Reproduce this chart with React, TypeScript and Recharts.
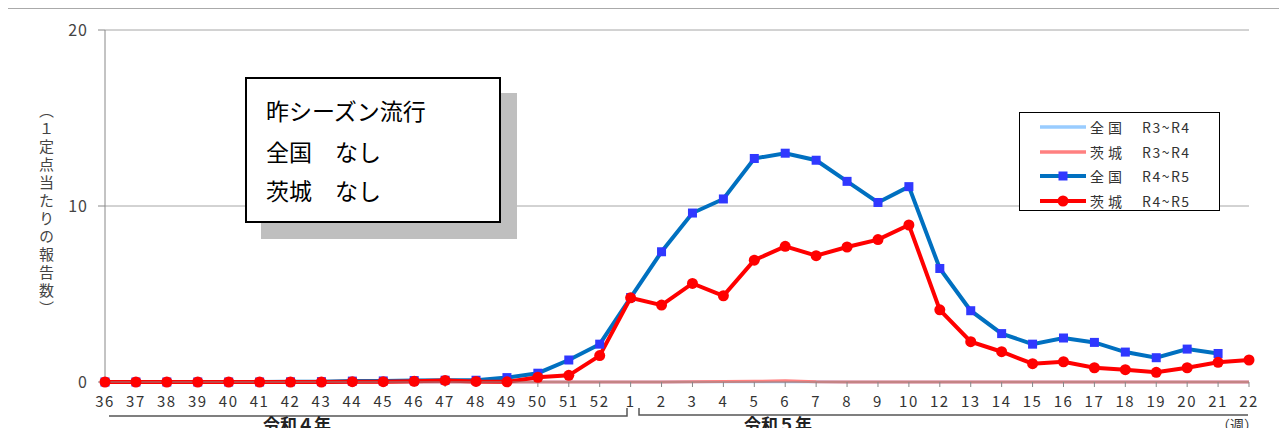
import React from "react";
import { CartesianGrid, Line, LineChart, XAxis, YAxis } from "recharts";

// Week labels (week 11 is not shown in the source chart)
const weeks = [
  "36", "37", "38", "39", "40", "41", "42", "43", "44", "45", "46", "47", "48", "49", "50", "51", "52",
  "1", "2", "3", "4", "5", "6", "7", "8", "9", "10",
  "12", "13", "14", "15", "16", "17", "18", "19", "20", "21", "22",
];

// 全国 R3~R4 (flat, hidden under the pink line)
const zenkokuPrev = [
  0, 0, 0, 0, 0, 0, 0, 0, 0, 0, 0, 0, 0, 0, 0, 0, 0,
  0, 0, 0.01, 0.01, 0.02, 0.02, 0.01, 0, 0, 0,
  0, 0, 0, 0, 0, 0, 0, 0, 0, 0, 0,
];

// 茨城 R3~R4
const ibarakiPrev = [
  0, 0, 0, 0, 0, 0, 0, 0, 0, 0, 0, 0, 0, 0, 0, 0, 0,
  0, 0, 0.01, 0.03, 0.04, 0.07, 0.01, 0, 0, 0,
  0, 0, 0, 0, 0, 0, 0, 0, 0, 0, 0,
];

// 全国 R4~R5
const zenkokuCur = [
  0, 0, 0, 0, 0, 0, 0.01, 0.02, 0.05, 0.06, 0.08, 0.1, 0.1, 0.25, 0.5, 1.25, 2.15,
  4.8, 7.4, 9.6, 10.4, 12.7, 13.0, 12.6, 11.4, 10.2, 11.1,
  6.45, 4.05, 2.75, 2.15, 2.5, 2.25, 1.7, 1.38, 1.87, 1.62, null,
];

// 茨城 R4~R5
const ibarakiCur = [
  0, 0, 0, 0, 0, 0, 0, 0, 0.02, 0.02, 0.04, 0.09, 0.03, 0.01, 0.27, 0.38, 1.5,
  4.78, 4.37, 5.6, 4.9, 6.92, 7.71, 7.18, 7.67, 8.09, 8.92,
  4.1, 2.29, 1.72, 1.04, 1.15, 0.81, 0.7, 0.55, 0.81, 1.12, 1.25,
];

const yTicks = [0, 10, 20];

const rows = weeks.map((w, i) => ({
  week: w,
  zp: zenkokuPrev[i],
  ip: ibarakiPrev[i],
  zc: zenkokuCur[i],
  ic: ibarakiCur[i],
}));

const FONT = '"Noto Sans CJK JP", "Noto Sans", sans-serif';

const legendItems = [
  { name: "全国", period: "R3~R4", color: "#99CCFF", marker: null },
  { name: "茨城", period: "R3~R4", color: "#FF8080", marker: null },
  { name: "全国", period: "R4~R5", color: "#0070C0", marker: "square" },
  { name: "茨城", period: "R4~R5", color: "#FF0000", marker: "circle" },
];

function SquareDot(props: any) {
  const { cx, cy, index, value } = props;
  if (cx == null || cy == null || value == null) return <g key={`s${index}`} />;
  return <rect key={`s${index}`} x={cx - 4.5} y={cy - 4.5} width={9} height={9} fill="#3038FF" />;
}

function CircleDot(props: any) {
  const { cx, cy, index, value } = props;
  if (cx == null || cy == null || value == null) return <g key={`c${index}`} />;
  return <circle key={`c${index}`} cx={cx} cy={cy} r={5.5} fill="#FF0000" />;
}

function LegendBox() {
  return (
    <div
      style={{
        position: "absolute",
        left: 1019,
        top: 112,
        width: 199,
        height: 97,
        border: "1.5px solid #000",
        background: "#fff",
        fontFamily: FONT,
        fontSize: 14,
        color: "#333",
      }}
    >
      {legendItems.map((it, i) => (
        <div key={i} style={{ display: "flex", alignItems: "center", height: 24.5, marginTop: i === 0 ? 2 : 0 }}>
          <svg width={70} height={14} style={{ flex: "none" }}>
            <line x1={20} y1={7} x2={66} y2={7} stroke={it.color} strokeWidth={it.marker ? 4 : 3.5} />
            {it.marker === "square" ? <rect x={38.5} y={2.5} width={9} height={9} fill="#3038FF" /> : null}
            {it.marker === "circle" ? <circle cx={43} cy={7} r={5.5} fill="#FF0000" /> : null}
          </svg>
          <span style={{ letterSpacing: 4, width: 52 }}>{it.name}</span>
          <span style={{ letterSpacing: 1.5 }}>{it.period}</span>
        </div>
      ))}
    </div>
  );
}

export default function App() {
  return (
    <div style={{ position: "relative", width: 1287, height: 436, margin: -8, overflow: "hidden", background: "#fff" }}>
      {/* outer frame */}
      <div
        style={{
          position: "absolute",
          left: 5,
          top: 8,
          width: 1279,
          height: 440,
          border: "1px solid #aaa",
        }}
      />
      <LineChart
        width={1287}
        height={436}
        data={rows}
        margin={{ top: 30, right: 38, bottom: 24, left: 0 }}
        style={{ position: "absolute", left: 0, top: 0, fontFamily: FONT }}
      >
        <CartesianGrid stroke="#a6a6a6" vertical={false} />
        <XAxis
          dataKey="week"
          interval={0}
          height={30}
          tick={{ fill: "#333", fontSize: 15, letterSpacing: 1.5 }}
          tickLine={{ stroke: "#888" }}
          tickSize={5}
          tickMargin={9}
          axisLine={{ stroke: "#888" }}
        />
        <YAxis
          domain={[0, 20]}
          ticks={yTicks}
          width={105}
          tick={{ fill: "#444", fontSize: 16, letterSpacing: 1 }}
          tickLine={{ stroke: "#888" }}
          tickSize={7}
          tickMargin={10}
          axisLine={{ stroke: "#888" }}
        />
        <Line dataKey="zp" name="全国 R3~R4" stroke="#99CCFF" strokeWidth={3} dot={false} isAnimationActive={false} />
        <Line dataKey="ip" name="茨城 R3~R4" stroke="#FF8080" strokeWidth={3} dot={false} isAnimationActive={false} />
        <Line
          dataKey="zc"
          name="全国 R4~R5"
          stroke="#0070C0"
          strokeWidth={4}
          dot={SquareDot}
          activeDot={false}
          isAnimationActive={false}
        />
        <Line
          dataKey="ic"
          name="茨城 R4~R5"
          stroke="#FF0000"
          strokeWidth={4}
          dot={CircleDot}
          activeDot={false}
          isAnimationActive={false}
        />
      </LineChart>

      <LegendBox />

      {/* y-axis title */}
      <div
        style={{
          position: "absolute",
          left: 36,
          top: 103,
          writingMode: "vertical-rl",
          fontFamily: FONT,
          fontSize: 15,
          letterSpacing: 3,
          color: "#444",
        }}
      >
        （１定点当たりの報告数）
      </div>

      {/* annotation box with shadow */}
      <div style={{ position: "absolute", left: 261, top: 93, width: 256, height: 146, background: "#bfbfbf" }} />
      <div
        style={{
          position: "absolute",
          left: 245,
          top: 77,
          width: 252,
          height: 142,
          background: "#fff",
          border: "2px solid #000",
          fontFamily: FONT,
          fontSize: 23,
          color: "#000",
        }}
      >
        <div style={{ position: "absolute", left: 19, top: 14, whiteSpace: "pre" }}>昨シーズン流行</div>
        <div style={{ position: "absolute", left: 19, top: 55, whiteSpace: "pre" }}>全国　なし</div>
        <div style={{ position: "absolute", left: 19, top: 94, whiteSpace: "pre" }}>茨城　なし</div>
      </div>

      {/* year brackets under the week axis */}
      <svg width={1287} height={436} style={{ position: "absolute", left: 0, top: 0, pointerEvents: "none" }}>
        <polyline points="109,416 627,416 627,408" fill="none" stroke="#555" strokeWidth={1.5} />
        <polyline points="639,408 639,415 1248,415" fill="none" stroke="#555" strokeWidth={1.5} />
        <text x={297} y={431} textAnchor="middle" fontFamily={FONT} fontSize={17} fontWeight={700} fill="#222">
          令和４年
        </text>
        <text x={778} y={431} textAnchor="middle" fontFamily={FONT} fontSize={17} fontWeight={700} fill="#222">
          令和５年
        </text>
        <text x={1237} y={430} textAnchor="middle" fontFamily={FONT} fontSize={14} fill="#333">
          （週）
        </text>
      </svg>
    </div>
  );
}
